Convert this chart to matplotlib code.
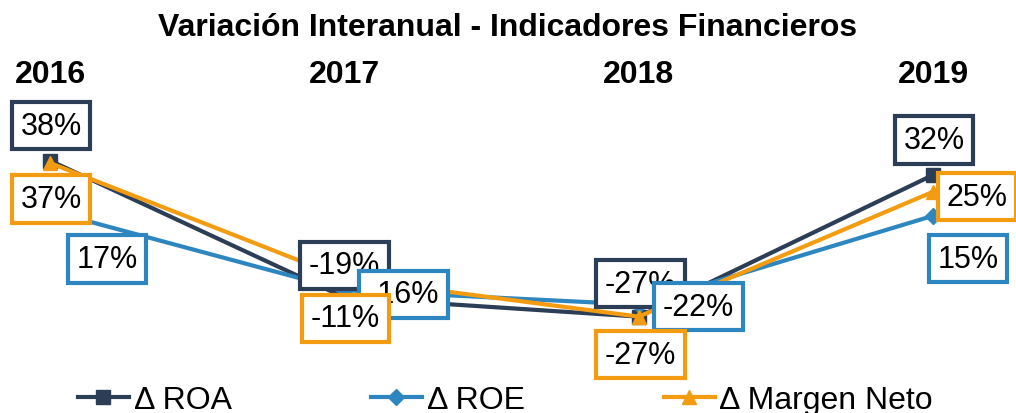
import numpy as np
import matplotlib.pyplot as plt

plt.rcParams['font.family'] = ['Liberation Sans', 'DejaVu Sans']

years = ['2016', '2017', '2018', '2019']
roa = [38, -19, -27, 32]
roe = [17, -16, -22, 15]
margen = [37, -11, -27, 25]

series = [
    ('\u0394 ROA', roa, '#2C3E55', 's', 10),
    ('\u0394 ROE', roe, '#2E86C1', 'D', 8),
    ('\u0394 Margen Neto', margen, '#F39C12', '^', 10),
]

# label offsets in pixels (dx, dy) from each point, y up
offsets = {
    '\u0394 ROA': [(1, 35), (0, 32), (2, 33), (1, 35)],
    '\u0394 ROE': [(57, -48), (59, -4), (60, -2), (35, -43)],
    '\u0394 Margen Neto': [(1, -36), (1, -40), (2, -38), (44, -5)],
}

W, H = 1016, 414
fig = plt.figure(figsize=(W / 100, H / 100), dpi=100)
top_px = 90
ax = fig.add_axes([0, 0, 1, (H - top_px) / H])

x = np.arange(len(years))
px_per_x = 294.33
px_per_y = 2.4
ax.set_xlim(-50 / px_per_x, 3 + (W - 933) / px_per_x)
ax.set_ylim(32 - (H - 176) / px_per_y, 32 + (176 - top_px) / px_per_y)

for name, vals, col, mk, ms in series:
    ax.plot(x, vals, color=col, lw=3, marker=mk, markersize=ms, label=name, zorder=2)

z = 5
for name, vals, col, mk, ms in series:
    for i, v in enumerate(vals):
        dx, dy = offsets[name][i]
        ax.annotate(f'{v}%', (x[i], v), xytext=(dx * 0.72, dy * 0.72),
                    textcoords='offset points', ha='center', va='center',
                    fontsize=22, color='black', zorder=z,
                    bbox=dict(boxstyle='square,pad=0.28', fc='white', ec=col, lw=3))
        z += 1

ax.xaxis.tick_top()
ax.set_xticks(x)
ax.set_xticklabels(years, fontsize=23, fontweight='bold')
ax.tick_params(axis='x', length=0, pad=0)
ax.set_yticks([])
for s in ax.spines.values():
    s.set_visible(False)

fig.text(0.5, 1 - 28 / H, 'Variación Interanual - Indicadores Financieros',
         ha='center', va='center', fontsize=23, fontweight='bold')

fig.legend(loc='center', bbox_to_anchor=(0.4975, 13 / H), ncol=3, frameon=False,
           fontsize=23, handlelength=1.6, handletextpad=0.15, columnspacing=4.35)

fig.savefig('out.png', dpi=100)
